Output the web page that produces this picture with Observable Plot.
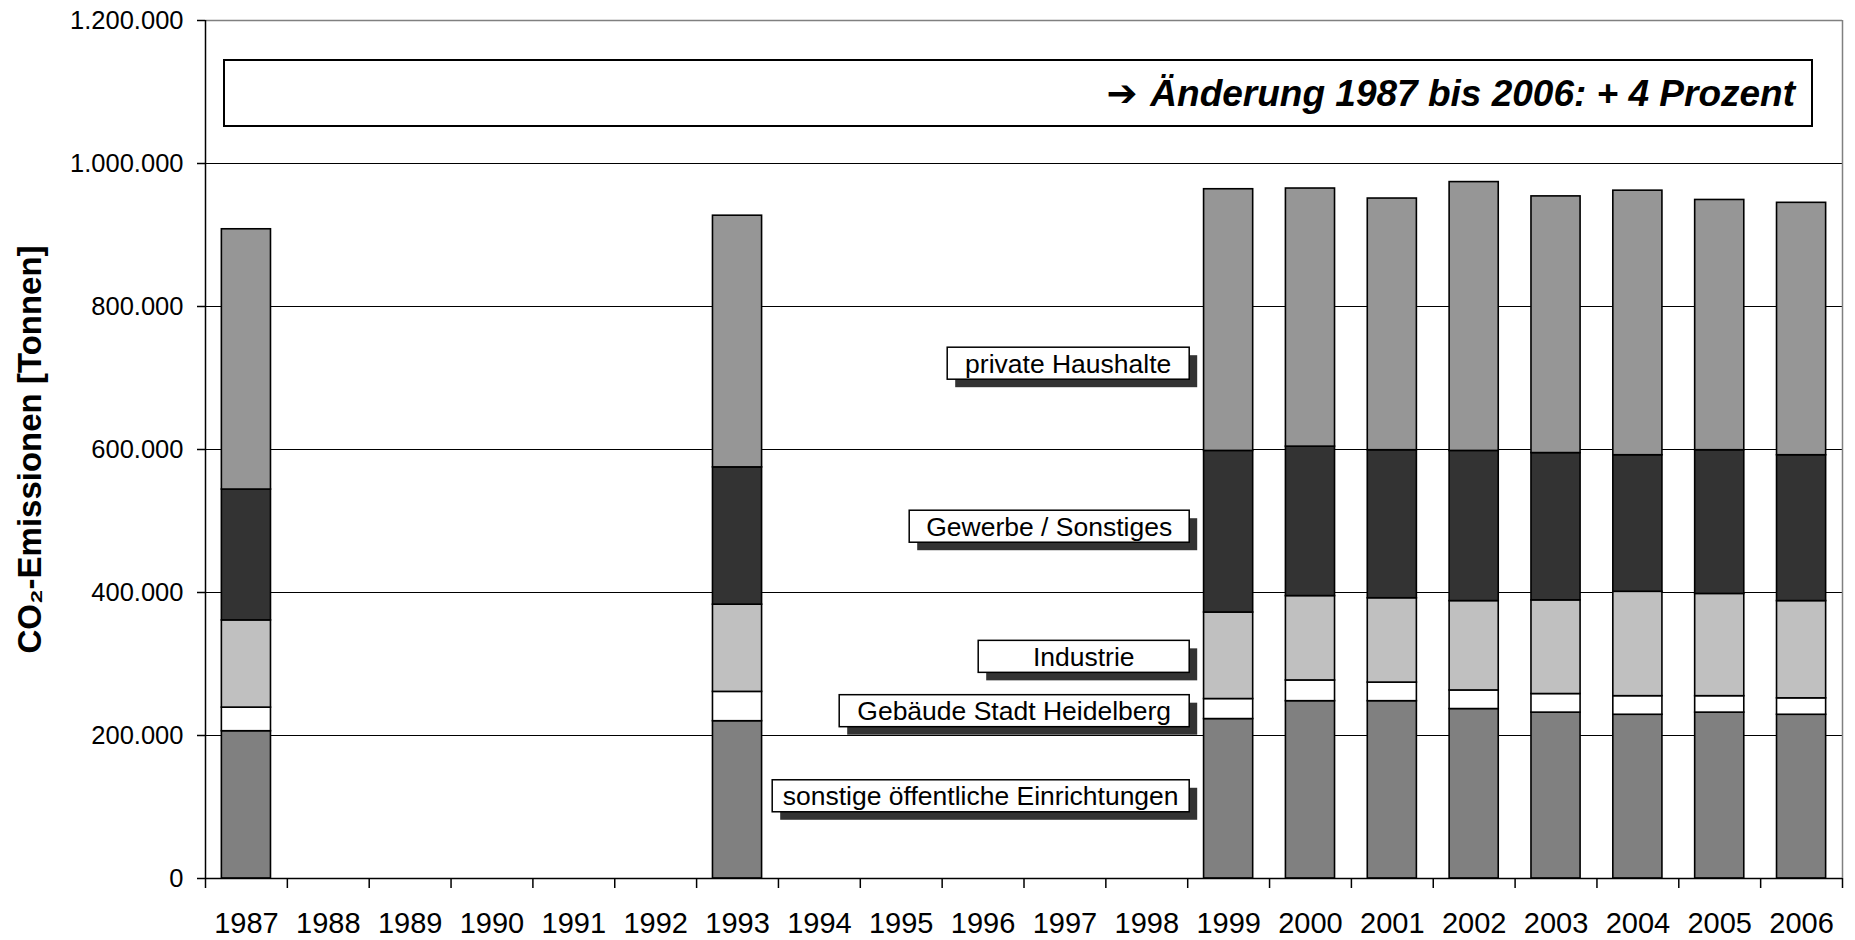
<!DOCTYPE html>
<html>
<head>
<meta charset="utf-8">
<script src="https://cdn.jsdelivr.net/npm/d3@7"></script>
<script src="https://cdn.jsdelivr.net/npm/@observablehq/plot@0.6"></script>
<style>
  html, body { margin: 0; padding: 0; background: #fff; }
  svg { display: block; }
</style>
</head>
<body>
<div id="chart"></div>
<script>
// ---------- data ----------
const years = ["1987","1988","1989","1990","1991","1992","1993","1994","1995","1996","1997","1998","1999","2000","2001","2002","2003","2004","2005","2006"];
const dataYears = ["1987","1993","1999","2000","2001","2002","2003","2004","2005","2006"];
const seriesNames = ["sonstige öffentliche Einrichtungen", "Gebäude Stadt Heidelberg", "Industrie", "Gewerbe / Sonstiges", "private Haushalte"];
const sonstige  = [206000, 220000, 223000, 248000, 248000, 237000, 232000, 229000, 232000, 229000];
const gebaeude  = [ 33000,  41000,  28000,  29000,  26000,  26000,  26000,  26000,  23000,  23000];
const industrie = [122000, 122000, 121000, 118000, 118000, 125000, 131000, 146000, 143000, 136000];
const gewerbe   = [183000, 192000, 226000, 209000, 207000, 210000, 206000, 191000, 201000, 204000];
const haushalte = [364000, 352000, 366000, 361000, 352000, 376000, 359000, 370000, 350000, 353000];
const yTicks = [0, 200000, 400000, 600000, 800000, 1000000, 1200000];
const yTitle = "CO₂-Emissionen [Tonnen]";
const noteText = "Änderung 1987 bis 2006: + 4 Prozent";
const labelValues = [115000, 234000, 310000, 492000, 720000]; // vertical position of the series labels (data units)

// ---------- style / layout ----------
const seriesColors = ["#808080", "#ffffff", "#c0c0c0", "#333333", "#969696"];
const W = 1855, H = 940, mL = 205, mR = 13, mT = 20, mB = 62;
const step = (W - mL - mR) / years.length;
const labelBoxWidths = [417, 350, 211, 280, 242];
const labelBoxHeight = 32;

const seriesValues = [sonstige, gebaeude, industrie, gewerbe, haushalte];
const table = [];
seriesNames.forEach((s, i) => dataYears.forEach((y, j) => table.push({year: y, series: s, value: seriesValues[i][j]})));

const de = d3.formatLocale({decimal: ",", thousands: ".", grouping: [3], currency: ["", ""]});
const fmt = de.format(",.0f");
const FONT = "Arial, 'Liberation Sans', sans-serif";

const chart = Plot.plot({
  width: W, height: H,
  marginLeft: mL, marginRight: mR, marginTop: mT, marginBottom: mB,
  style: {fontFamily: FONT, color: "#000", background: "#fff"},
  x: {type: "band", domain: years, paddingInner: 0.4, paddingOuter: 0.2, align: 0.5, round: false, axis: null},
  y: {domain: [0, 1200000], axis: null},
  color: {domain: seriesNames, range: seriesColors},
  marks: [
    Plot.ruleY(yTicks.filter(d => d > 0 && d < 1200000), {stroke: "#000", strokeWidth: 1}),
    Plot.ruleY([1200000], {stroke: "#808080", strokeWidth: 1.5}),
    Plot.ruleX([years[years.length - 1]], {dx: step / 2, stroke: "#808080", strokeWidth: 1.5}),
    Plot.barY(table, {x: "year", y: "value", fill: "series", stroke: "#000", strokeWidth: 1.6}),
    Plot.ruleY([0], {stroke: "#000", strokeWidth: 1.5}),
    Plot.ruleX([years[0]], {dx: -step / 2, stroke: "#000", strokeWidth: 1.5}),
    Plot.axisY({ticks: yTicks, tickSize: 8, tickPadding: 14, tickFormat: fmt, fontSize: 25.5, label: null, strokeWidth: 1.5}),
    Plot.axisX({ticks: years, tickSize: 10, tickFormat: () => "", dx: -step / 2, label: null, strokeWidth: 1.5}),
    Plot.axisX({ticks: [years[years.length - 1]], tickSize: 10, tickFormat: () => "", dx: step / 2, label: null, strokeWidth: 1.5}),
    Plot.text(years, {x: d => d, frameAnchor: "bottom", lineAnchor: "top", dy: 34, fontSize: 29}),
    Plot.text([yTitle], {frameAnchor: "left", textAnchor: "middle", rotate: -90, dx: -175, fontSize: 33, fontWeight: "bold"})
  ]
});
document.getElementById("chart").appendChild(chart);

// ---------- annotations (positioned through Plot's scales) ----------
const xs = chart.scale("x"), ys = chart.scale("y");
const svg = d3.select(chart);
const g = svg.append("g").attr("font-family", FONT);

// top note box
const noteLeft = mL + 19, noteRight = W - mR - 30, noteTop = mT + 40, noteH = 66;
g.append("rect").attr("x", noteLeft).attr("y", noteTop).attr("width", noteRight - noteLeft).attr("height", noteH)
  .attr("fill", "#fff").attr("stroke", "#000").attr("stroke-width", 2);
const note = g.append("text").attr("x", noteRight - 17).attr("y", noteTop + 46).attr("text-anchor", "end")
  .attr("font-size", 37).attr("font-weight", "bold").attr("font-style", "italic");
note.append("tspan").attr("font-family", "'DejaVu Sans', sans-serif").attr("font-style", "normal").text("➔ ");
note.append("tspan").text(noteText);

// series labels with shadow boxes
const boxRight = xs.apply("1999") - xs.step * 0.2 + 2;
seriesNames.forEach((name, i) => {
  const cy = ys.apply(labelValues[i]);
  const w = labelBoxWidths[i], h = labelBoxHeight;
  const x0 = boxRight - w, y0 = cy - h / 2;
  g.append("rect").attr("x", x0 + 8).attr("y", y0 + 8).attr("width", w).attr("height", h).attr("fill", "#333");
  g.append("rect").attr("x", x0).attr("y", y0).attr("width", w).attr("height", h)
    .attr("fill", "#fff").attr("stroke", "#000").attr("stroke-width", 1.5);
  g.append("text").attr("x", x0 + w / 2).attr("y", cy + 9.5).attr("text-anchor", "middle")
    .attr("font-size", 26.5).text(name);
});
</script>
</body>
</html>
